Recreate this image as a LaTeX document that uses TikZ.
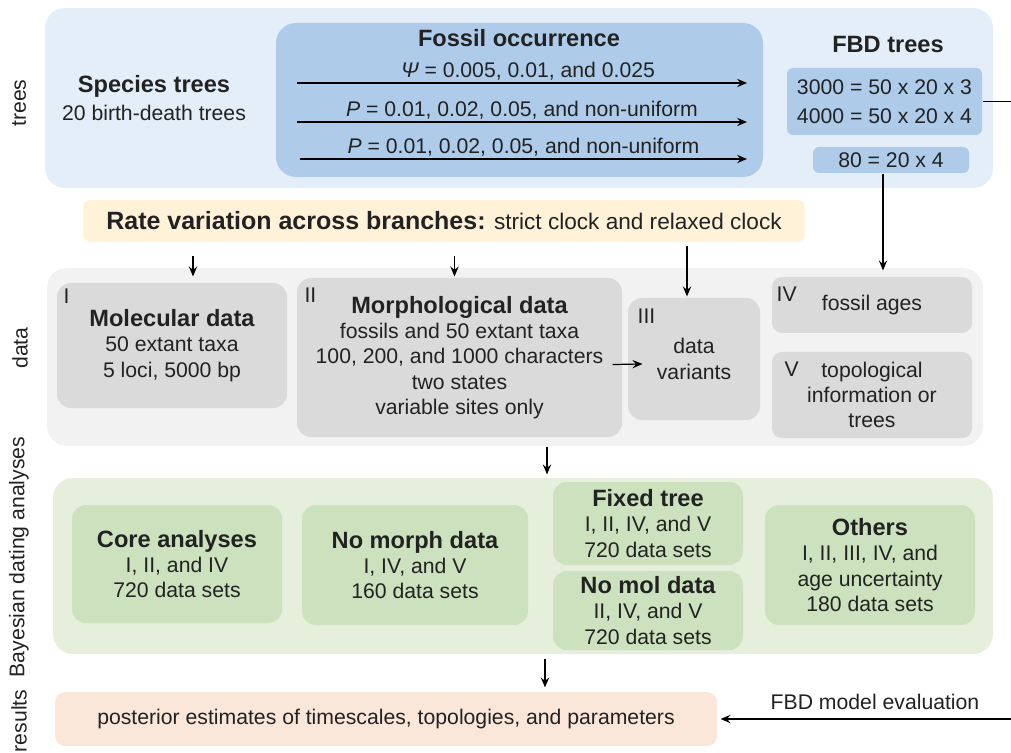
\documentclass[tikz,border=0pt]{standalone}
\usepackage{fontspec}
\setmainfont{Liberation Sans}
\usetikzlibrary{arrows.meta,calc}

\definecolor{treebg}{HTML}{E4EEF8}
\definecolor{fossilbg}{HTML}{AECCEA}
\definecolor{ratebg}{HTML}{FFF2D8}
\definecolor{databg}{HTML}{F2F2F2}
\definecolor{databox}{HTML}{DADADA}
\definecolor{anabg}{HTML}{E5EFDC}
\definecolor{anabox}{HTML}{CCE1BD}
\definecolor{resbg}{HTML}{FBE6DA}
\definecolor{inktxt}{HTML}{222222}

\newcommand\txtfont{\fontsize{10.6}{12.6}\selectfont}
\newcommand\hdfont{\fontsize{11.8}{13.2}\selectfont\bfseries}

\begin{document}
\begin{tikzpicture}[
  x=0.5pt, y=-0.5pt,
  panel/.style={rounded corners=10pt, inner sep=0pt},
  box/.style={rounded corners=7pt, align=center, inner sep=0pt, font=\txtfont, text=inktxt},
  small/.style={rounded corners=3pt, align=center, inner sep=0pt, font=\txtfont, text=inktxt},
  plain/.style={font=\txtfont, text=inktxt, align=center},
  head/.style={font=\hdfont, text=inktxt},
  sidelab/.style={font=\txtfont, text=inktxt, rotate=90},
  roman/.style={font=\txtfont, text=inktxt, anchor=north west, inner sep=0pt},
  >={Stealth[length=5pt,width=4.2pt,inset=1.8pt]}, line width=0.6pt
]
  \useasboundingbox (0,0) rectangle (1011,753);

  % row labels
  \node[sidelab] (lbltrees) at (19,103) {trees};
  \node[sidelab] (lbldata) at (20,348) {data};
  \node[sidelab] (lblbayes) at (19,557) {Bayesian dating analyses};
  \node[sidelab] (lblres) at (19,721) {results};

  % trees
  \node[panel, fill=treebg, minimum width=474pt, minimum height=90pt] (treespanel) at (519,98) {};
  \node[plain] (species) at (154,98) {{\hdfont Species trees}\\[1pt]20 birth-death trees};
  \node[panel, fill=fossilbg, minimum width=243.5pt, minimum height=77pt] (fossil) at (519.5,100) {};
  \node[head] (fossiltitle) at (519,38) {Fossil occurrence};
  \coordinate (f1s) at (297,83);  \coordinate (f1e) at (747,83);
  \coordinate (f2s) at (297,122); \coordinate (f2e) at (747,122);
  \coordinate (f3s) at (300,159); \coordinate (f3e) at (747,159);
  \draw[->] (f1s) -- (f1e) node[midway, above, plain, inner sep=1.2pt, xshift=3pt]
      {{\itshape Ψ} = 0.005, 0.01, and 0.025};
  \draw[->] (f2s) -- (f2e) node[midway, above, plain, inner sep=1.2pt]
      {{\itshape P} = 0.01, 0.02, 0.05, and non-uniform};
  \draw[->] (f3s) -- (f3e) node[midway, above, plain, inner sep=1.2pt]
      {{\itshape P} = 0.01, 0.02, 0.05, and non-uniform};

  \node[head] (fbdtitle) at (888,45) {FBD trees};
  \node[small, fill=fossilbg, minimum width=97.5pt, minimum height=33.5pt] (fbdall) at (884.5,101.5)
      {3000 = 50 x 20 x 3\\[2pt]4000 = 50 x 20 x 4};
  \node[small, fill=fossilbg, minimum width=78pt, minimum height=13pt] (fbdext) at (891,160) {80 = 20 x 4};

  % rate variation
  \node[small, rounded corners=4pt, fill=ratebg, minimum width=361pt, minimum height=21pt,
        font=\fontsize{11.3}{13}\selectfont] (rate) at (444,221)
      {{\fontsize{12.5}{13}\selectfont\bfseries Rate variation across branches:} strict clock and relaxed clock};

  % data
  \node[panel, fill=databg, minimum width=468pt, minimum height=89pt] (datapanel) at (515,357) {};
  \node[box, fill=databox, minimum width=115pt, minimum height=62.5pt] (mol) at (172,345.5)
      {{\hdfont Molecular data}\\50 extant taxa\\5 loci, 5000 bp};
  \node[box, fill=databox, minimum width=162.5pt, minimum height=79.5pt] (morph) at (459.5,357.5)
      {{\hdfont Morphological data}\\fossils and 50 extant taxa\\100, 200, and 1000 characters\\two states\\variable sites only};
  \node[box, fill=databox, minimum width=66pt, minimum height=61pt] (variants) at (694,359)
      {data\\variants};
  \node[box, rounded corners=5pt, fill=databox, minimum width=100pt, minimum height=28pt] (ages) at (872,305)
      {fossil ages};
  \node[box, rounded corners=5pt, fill=databox, minimum width=100pt, minimum height=43pt] (topo) at (872,395)
      {topological\\information or\\trees};
  \node[roman] (rI) at (63,288) {I};
  \node[roman] (rII) at (304,287) {II};
  \node[roman] (rIII) at (637,308) {III};
  \node[roman] (rIV) at (776,286) {IV};
  \node[roman] (rV) at (784,361) {V};

  % analyses
  \node[panel, fill=anabg, minimum width=470pt, minimum height=88pt] (anapanel) at (523,566) {};
  \node[box, fill=anabox, minimum width=105pt, minimum height=59pt] (core) at (177,564)
      {{\hdfont Core analyses}\\I, II, and IV\\720 data sets};
  \node[box, fill=anabox, minimum width=113pt, minimum height=60pt] (nomorph) at (415,565)
      {{\hdfont No morph data}\\I, IV, and V\\160 data sets};
  \node[box, fill=anabox, minimum width=95pt, minimum height=41.5pt] (fixed) at (648,523.5)
      {{\hdfont Fixed tree}\\I, II, IV, and V\\720 data sets};
  \node[box, fill=anabox, minimum width=95pt, minimum height=39.5pt] (nomol) at (648,610.5)
      {{\hdfont No mol data}\\II, IV, and V\\720 data sets};
  \node[box, fill=anabox, minimum width=105pt, minimum height=60pt] (others) at (870,565)
      {{\hdfont Others}\\I, II, III, IV, and\\age uncertainty\\180 data sets};

  % results
  \node[small, rounded corners=5pt, fill=resbg, minimum width=331pt, minimum height=27pt] (results) at (386,719)
      {posterior estimates of timescales, topologies, and parameters};

  % connectors
  \coordinate (edge) at (1016,101.5);
  \draw[->] (fbdall.east) -- (edge) |- ([xshift=1.5pt]results.east);
  \node[plain] (fbdeval) at (875,702) {FBD model evaluation};
  \draw[->, shorten >=3pt] ([xshift=-4pt]fbdext.south) -- ([xshift=-4pt]fbdext.south |- ages.north);
  \draw[->, shorten <=6.5pt, shorten >=3pt] ([xshift=10.5pt]mol.north |- rate.south) -- ([xshift=10.5pt]mol.north);
  \draw[->, shorten <=6.5pt, shorten >=0.5pt] ([xshift=-2.5pt]morph.north |- rate.south) -- ([xshift=-2.5pt]morph.north);
  \draw[->, shorten <=1.5pt, shorten >=0.5pt] ([xshift=-3.5pt]variants.north |- rate.south) -- ([xshift=-3.5pt]variants.north);
  \draw[->] ([shift={(-5pt,-3.5pt)}]morph.east) -- ([shift={(7.5pt,-2.5pt)}]variants.west);
  \draw[->, shorten >=1.5pt] ([xshift=16pt]datapanel.south) -- ([xshift=16pt]datapanel.south |- anapanel.north);
  \draw[->, shorten <=2pt, shorten >=2pt] ([xshift=79.5pt]results.north |- anapanel.south) -- ([xshift=79.5pt]results.north);
\end{tikzpicture}
\end{document}
